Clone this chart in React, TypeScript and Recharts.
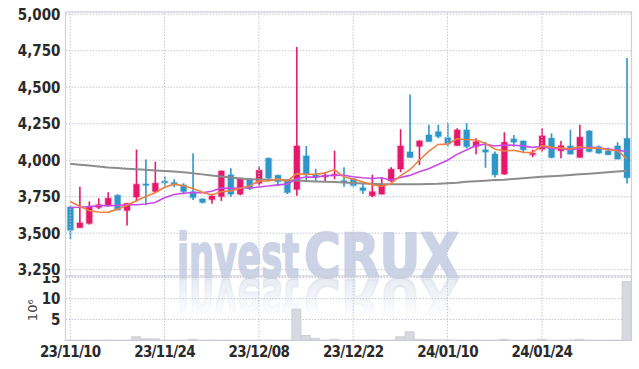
import React from 'react';
import {
  ComposedChart,
  Bar,
  Line,
  XAxis,
  YAxis,
  CartesianGrid,
  ReferenceLine,
  ReferenceArea,
} from 'recharts';

const dates = [
  '23/11/10', '23/11/13', '23/11/14', '23/11/15', '23/11/16', '23/11/17', '23/11/20', '23/11/21', '23/11/22', '23/11/23',
  '23/11/24', '23/11/27', '23/11/28', '23/11/29', '23/11/30', '23/12/01', '23/12/04', '23/12/05', '23/12/06', '23/12/07',
  '23/12/08', '23/12/11', '23/12/12', '23/12/13', '23/12/14', '23/12/15', '23/12/18', '23/12/19', '23/12/20', '23/12/21',
  '23/12/22', '23/12/26', '23/12/27', '23/12/28', '24/01/02', '24/01/03', '24/01/04', '24/01/05', '24/01/08', '24/01/09',
  '24/01/10', '24/01/11', '24/01/12', '24/01/15', '24/01/16', '24/01/17', '24/01/18', '24/01/19', '24/01/22', '24/01/23',
  '24/01/24', '24/01/25', '24/01/26', '24/01/29', '24/01/30', '24/01/31', '24/02/01', '24/02/02', '24/02/05', '24/02/06',
];

const opens = [
  3680, 3538, 3566, 3676, 3689, 3760, 3655, 3747, 3838, 3785,
  3856, 3847, 3831, 3785, 3735, 3730, 3751, 3900, 3767, 3874,
  3842, 4014, 3897, 3863, 3799, 4030, 3899, 3886, 3893, 3860,
  3874, 3812, 3756, 3767, 3858, 3939, 4057, 4094, 4173, 4196,
  4155, 4100, 4208, 4093, 4071, 4043, 3904, 4146, 4132, 4041,
  4075, 4151, 4064, 4098, 4018, 4201, 4093, 4064, 4098, 4150,
];
const highs = [
  3690, 3819, 3717, 3740, 3781, 3767, 3705, 4073, 4004, 3990,
  3888, 3870, 3843, 4048, 3740, 3771, 3930, 3945, 3880, 3876,
  3959, 4016, 3900, 3870, 4776, 4098, 3942, 3920, 4064, 3952,
  3877, 3840, 3901, 3877, 3952, 4212, 4450, 4135, 4242, 4242,
  4253, 4219, 4253, 4151, 4127, 4059, 4192, 4173, 4135, 4071,
  4219, 4185, 4132, 4208, 4242, 4205, 4100, 4087, 4123, 4700,
];
const lows = [
  3460, 3535, 3560, 3665, 3682, 3658, 3552, 3717, 3692, 3781,
  3819, 3815, 3767, 3728, 3705, 3701, 3721, 3749, 3760, 3796,
  3826, 3870, 3824, 3769, 3756, 3860, 3853, 3853, 3870, 3819,
  3819, 3769, 3747, 3765, 3851, 3918, 4018, 3968, 4127, 4151,
  4093, 4098, 4082, 4041, 3949, 3881, 3900, 4093, 4048, 4021,
  4059, 4014, 4014, 4041, 4018, 4055, 4043, 4036, 4007, 3840,
];
const closes = [
  3520, 3571, 3682, 3696, 3740, 3658, 3705, 3836, 3833, 3843,
  3845, 3831, 3785, 3744, 3710, 3755, 3927, 3767, 3877, 3805,
  3932, 3877, 3853, 3778, 4098, 3899, 3884, 3897, 3904, 3853,
  3826, 3792, 3785, 3836, 3939, 4098, 4018, 4133, 4127, 4162,
  4112, 4208, 4093, 4127, 4055, 3900, 4123, 4123, 4071, 4048,
  4167, 4018, 4100, 4041, 4158, 4059, 4048, 4037, 4007, 3880,
];

// moving averages
const ma5 = [
  3717, 3685, 3655, 3645, 3643, 3665, 3690, 3722, 3752, 3777,
  3815, 3836, 3825, 3806, 3780, 3762, 3784, 3790, 3808, 3824,
  3858, 3858, 3872, 3856, 3908, 3904, 3905, 3912, 3936, 3886,
  3870, 3852, 3832, 3822, 3840, 3893, 3935, 4000, 4061, 4108,
  4110, 4147, 4140, 4140, 4115, 4077, 4063, 4068, 4055, 4052,
  4100, 4088, 4084, 4078, 4092, 4082, 4084, 4072, 4066, 4010,
];
const ma10 = [
  3676, 3678, 3682, 3688, 3689, 3690, 3694, 3695, 3700, 3710,
  3743, 3765, 3774, 3779, 3777, 3787, 3810, 3807, 3810, 3810,
  3817, 3823, 3831, 3836, 3873, 3885, 3884, 3893, 3897, 3897,
  3887, 3880, 3875, 3880, 3863, 3882, 3896, 3921, 3942, 3970,
  4000, 4040, 4070, 4100, 4110, 4097, 4104, 4102, 4098, 4088,
  4094, 4080, 4078, 4072, 4078, 4090, 4083, 4077, 4070, 4058,
];
const maLong = [
  3975, 3969, 3963, 3957, 3950, 3946, 3942, 3938, 3934, 3930,
  3926, 3922, 3918, 3910, 3903, 3895, 3888, 3881, 3875, 3870,
  3868, 3866, 3864, 3862, 3861, 3858, 3855, 3852, 3850, 3847,
  3844, 3841, 3838, 3836, 3836, 3836, 3836, 3836, 3837, 3838,
  3842, 3846, 3852, 3856, 3860, 3864, 3867, 3872, 3876, 3881,
  3886, 3890, 3894, 3898, 3903, 3907, 3912, 3917, 3922, 3927,
];
// volume, millions of shares
const volumes = [
  0.08, 0.08, 0.08, 0.08, 0.08, 0.08, 0.08, 0.9, 0.4, 0.4,
  0.08, 0.08, 0.08, 0.3, 0.08, 0.08, 0.08, 0.08, 0.08, 0.08,
  0.08, 0.08, 0.08, 0.08, 7.5, 1.2, 0.5, 0.08, 0.3, 0.08,
  0.08, 0.08, 0.08, 0.08, 0.08, 0.9, 2.1, 0.3, 0.2, 0.15,
  0.15, 0.08, 0.08, 0.08, 0.08, 0.08, 0.3, 0.08, 0.08, 0.08,
  0.3, 0.08, 0.08, 0.08, 0.3, 0.08, 0.08, 0.08, 0.08, 14.1,
];

const priceTicks = [3250, 3500, 3750, 4000, 4250, 4500, 4750, 5000];
const volumeTicks = [5, 10, 15];
const tickDates = ['23/11/10', '23/11/24', '23/12/08', '23/12/22', '24/01/10', '24/01/24'];

const rows = dates.map((date, i) => ({
  date,
  open: opens[i],
  high: highs[i],
  low: lows[i],
  close: closes[i],
  range: [lows[i], highs[i]],
  ma5: ma5[i],
  ma10: ma10[i],
  maLong: maLong[i],
  vol: volumes[i],
}));

const RED = '#e5196b';
const BLUE = '#2f96c8';
const GRID = '#c3c6d6';
const BORDER = '#cfd0d8';
const FONT = "'Liberation Sans Narrow', 'DejaVu Sans Condensed', sans-serif";
const PRICE_DOMAIN = [3207, 5015];
const VOL_DOMAIN = [0, 15.4];
const WM = '#cdd3e6';

const Candle = (props: any) => {
  const { x, y, width, height, payload } = props;
  if (!payload) return null;
  const { open, close, high, low } = payload;
  const top = Math.min(y, y + height);
  const h = Math.abs(height);
  const k = h / (high - low || 1);
  const yo = top + (high - open) * k;
  const yc = top + (high - close) * k;
  const cx = x + width / 2;
  const color = close >= open ? RED : BLUE;
  const bodyTop = Math.min(yo, yc);
  const bodyH = Math.max(Math.abs(yo - yc), 1.5);
  return (
    <g>
      <line x1={cx} x2={cx} y1={top} y2={top + h} stroke={color} strokeWidth={1.6} />
      <rect
        x={cx - 3}
        y={bodyTop}
        width={6}
        height={bodyH}
        fill={color}
        stroke={color}
        strokeOpacity={0.2}
        strokeWidth={2}
      />
    </g>
  );
};

const tickStyle = { fontFamily: FONT, fontSize: 15, fontWeight: 'bold', fill: '#2a2a2a' };

const VolUnit = (props: any) => {
  const vb = props.viewBox || {};
  const cx = vb.x + vb.width / 2;
  const cy = vb.y + vb.height / 2 + 2;
  return (
    <text
      x={cx}
      y={cy}
      transform={`rotate(-90 ${cx} ${cy})`}
      textAnchor="middle"
      dominantBaseline="central"
      fontFamily="'DejaVu Sans', sans-serif"
      fontSize={13}
      fill="#444"
    >
      10⁶
    </text>
  );
};

function WordPair({ fill }: { fill: string }) {
  const base = {
    y: 277,
    lengthAdjust: 'spacingAndGlyphs',
    fontFamily: "'DejaVu Sans', sans-serif",
    fontWeight: 'bold',
    fontSize: 61,
    fill,
    stroke: fill,
    strokeWidth: 2.2,
    strokeLinejoin: 'round',
  } as any;
  return (
    <>
      <text {...base} x={177} textLength={122}>
        invest
      </text>
      <text {...base} x={304} textLength={155}>
        CRUX
      </text>
    </>
  );
}

function Watermark() {
  return (
    <svg width={639} height={369} style={{ position: 'absolute', left: 0, top: 0 }}>
      <defs>
        <linearGradient id="wmfade" gradientUnits="userSpaceOnUse" x1="0" y1="238" x2="0" y2="278">
          <stop offset="0" stopColor={WM} stopOpacity={0} />
          <stop offset="1" stopColor={WM} stopOpacity={0.45} />
        </linearGradient>
      </defs>
      <WordPair fill={WM} />
      <g transform="translate(0 556) scale(1 -1)">
        <WordPair fill="url(#wmfade)" />
      </g>
    </svg>
  );
}

export default function App() {
  return (
    <div
      style={{
        position: 'absolute',
        left: 0,
        top: 0,
        width: 639,
        height: 369,
        background: '#fff',
        overflow: 'hidden',
      }}
    >
      <Watermark />
      <div style={{ position: 'absolute', left: 0, top: 0 }}>
        <ComposedChart width={639} height={276} data={rows} margin={{ top: 12, right: 7.5, bottom: 0, left: 0 }}>
          <CartesianGrid vertical={false} stroke={GRID} strokeDasharray="1.5 1.5" />
          {tickDates.map((d) => (
            <ReferenceLine key={d} x={d} stroke={GRID} strokeDasharray="1.5 1.5" />
          ))}
          <XAxis dataKey="date" hide />
          <YAxis
            domain={PRICE_DOMAIN}
            ticks={priceTicks}
            interval={0}
            width={65.5}
            axisLine={false}
            tickLine={false}
            tickSize={5}
            tickMargin={0}
            tick={tickStyle}
            tickFormatter={(v: number) => v.toLocaleString('en-US')}
            allowDataOverflow
          />
          <ReferenceArea
            y1={PRICE_DOMAIN[0]}
            y2={PRICE_DOMAIN[1]}
            fill="none"
            stroke={BORDER}
            strokeWidth={1.2}
            ifOverflow="visible"
          />
          <Bar dataKey="range" shape={<Candle />} isAnimationActive={false} />
          <Line dataKey="maLong" stroke="#8c8c8c" strokeWidth={2} dot={false} isAnimationActive={false} />
          <Line dataKey="ma10" stroke="#c94ae6" strokeWidth={1.6} dot={false} isAnimationActive={false} />
          <Line dataKey="ma5" stroke="#ef8040" strokeWidth={1.6} dot={false} isAnimationActive={false} />
        </ComposedChart>
      </div>
      <div style={{ position: 'absolute', left: 0, top: 276 }}>
        <ComposedChart
          width={639}
          height={93}
          data={rows}
          barCategoryGap={0}
          margin={{ top: 0, right: 7.5, bottom: 0, left: 0 }}
        >
          <CartesianGrid vertical={false} stroke={GRID} strokeDasharray="1.5 1.5" />
          {tickDates.map((d) => (
            <ReferenceLine key={d} x={d} stroke={GRID} strokeDasharray="1.5 1.5" />
          ))}
          <XAxis
            dataKey="date"
            ticks={tickDates}
            interval={0}
            height={28.5}
            axisLine={false}
            tickLine={false}
            tickSize={6}
            tickMargin={0}
            tick={{ ...tickStyle, letterSpacing: -0.7 }}
          />
          <YAxis
            domain={VOL_DOMAIN}
            ticks={volumeTicks}
            interval={0}
            width={65.5}
            axisLine={false}
            tickLine={false}
            tickSize={5}
            tickMargin={0}
            tick={tickStyle}
            label={<VolUnit />}
          />
          <ReferenceArea
            y1={VOL_DOMAIN[0]}
            y2={VOL_DOMAIN[1]}
            fill="none"
            stroke={BORDER}
            strokeWidth={1.2}
            ifOverflow="visible"
          />
          <Bar dataKey="vol" fill="#d8d8e0" stroke="#c8c8d0" strokeWidth={0.8} isAnimationActive={false} />
        </ComposedChart>
      </div>
    </div>
  );
}
